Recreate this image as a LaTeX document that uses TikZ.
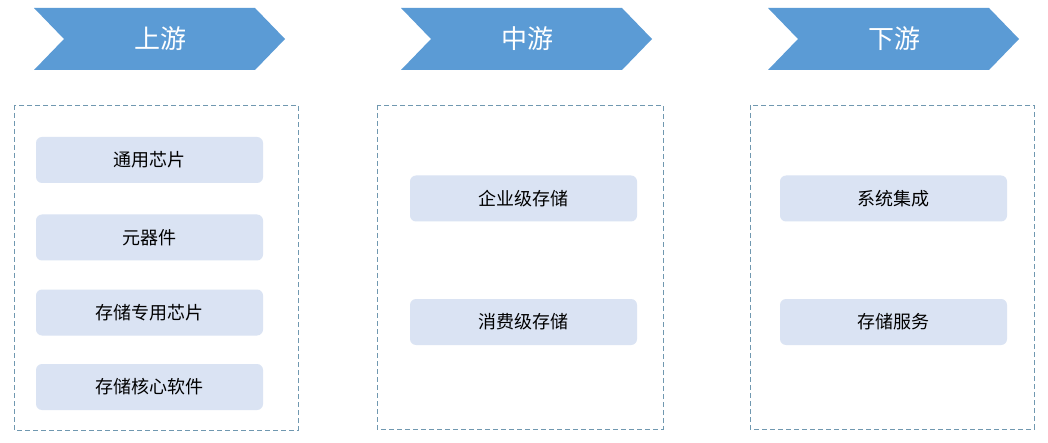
\documentclass[tikz,border=0pt]{standalone}
\usepackage{fontspec}
\newfontfamily\cjk{Noto Sans CJK SC}
\definecolor{chevblue}{HTML}{5B9BD5}
\definecolor{itemfill}{HTML}{DAE3F3}
\definecolor{framegray}{HTML}{7098B0}
\tikzset{
  item/.style={fill=itemfill, rounded corners=6pt, minimum width=227pt,
    minimum height=46pt, inner sep=0pt, font=\cjk\fontsize{18}{21}\selectfont},
  frame/.style={draw=framegray, line width=0.8pt, dash pattern=on 5pt off 3pt},
  chevtext/.style={text=white, font=\cjk\fontsize{26}{31}\selectfont}
}
\begin{document}
\begin{tikzpicture}[x=1pt,y=-1pt]
 \useasboundingbox[fill=white] (0,0) rectangle (1048,443);

 % chevrons
 \fill[chevblue] (34,8) -- ++(221,0) -- ++(30,31) -- ++(-30,31) -- ++(-221,0) -- ++(30,-31) -- cycle;
 \node[chevtext] (up) at (160,39) {上游};
 \fill[chevblue] (401,8) -- ++(221,0) -- ++(30,31) -- ++(-30,31) -- ++(-221,0) -- ++(30,-31) -- cycle;
 \node[chevtext] (mid) at (527,39) {中游};
 \fill[chevblue] (768,8) -- ++(221,0) -- ++(30,31) -- ++(-30,31) -- ++(-221,0) -- ++(30,-31) -- cycle;
 \node[chevtext] (down) at (894,39) {下游};

 % frames
 \draw[frame] (14,105) rectangle (298,430);
 \draw[frame] (377,105) rectangle (663,429);
 \draw[frame] (750,105) rectangle (1034,429);

 % upstream
 \node[item] (chip) at (149.5,160) {通用芯片};
 \node[item] (parts) at (149.5,237.5) {元器件};
 \node[item] (schip) at (149.5,312.5) {存储专用芯片};
 \node[item] (soft) at (149.5,387) {存储核心软件};

 % midstream
 \node[item] (ent) at (523.5,198.5) {企业级存储};
 \node[item] (cons) at (523.5,322) {消费级存储};

 % downstream
 \node[item] (sys) at (893.5,198.5) {系统集成};
 \node[item] (serv) at (893.5,322) {存储服务};
\end{tikzpicture}
\end{document}
